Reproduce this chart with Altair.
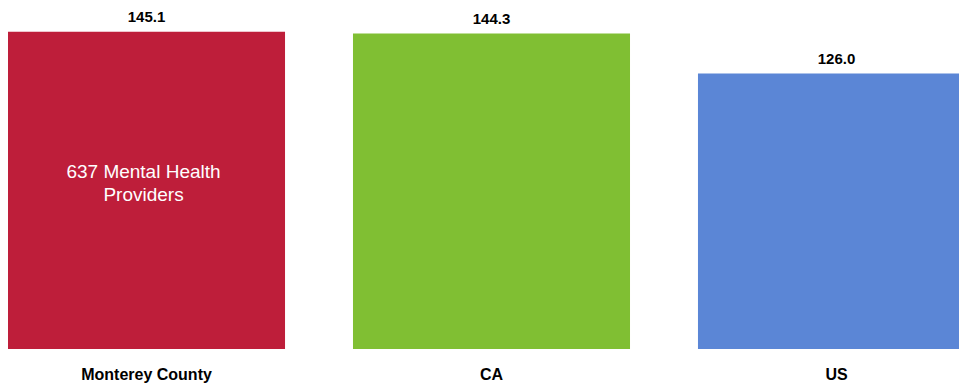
import altair as alt
import pandas as pd

regions = ["Monterey County", "CA", "US"]
rates = [145.1, 144.3, 126.0]
bar_colors = ["#BE1E3A", "#80BF33", "#5B86D6"]
note_lines = ["637 Mental Health", "Providers"]

BOLDFONT = "Liberation Sans, Arial, sans-serif"

df = pd.DataFrame({"region": regions, "rate": rates, "color": bar_colors})

xenc = alt.X(
    "region:N",
    sort=regions,
    scale=alt.Scale(paddingInner=0.197, paddingOuter=0, range=[0, 967]),
    axis=alt.Axis(
        title=None, domain=False, ticks=False, labelAngle=0,
        labelFont=BOLDFONT, labelFontWeight="bold", labelFontSize=16,
        labelColor="#000000", labelPadding=17,
    ),
)
yscale = alt.Scale(domain=[0, 156], nice=False, zero=True)

base = alt.Chart(df).encode(x=xenc)

bars = base.mark_bar().encode(
    y=alt.Y("rate:Q", scale=yscale, axis=None),
    color=alt.Color("color:N", scale=None),
)

values = base.mark_text(
    baseline="alphabetic", dy=-9.5, font=BOLDFONT, fontWeight="bold",
    fontSize=15, color="#000000",
).encode(
    y=alt.Y("rate:Q", scale=yscale, axis=None),
    text=alt.Text("rate:Q", format=".1f"),
)

note = base.transform_filter(
    alt.datum.region == regions[0]
).transform_calculate(
    mid="datum.rate / 2"
).mark_text(
    baseline="alphabetic", dy=-12, dx=-3, font="Liberation Sans",
    fontSize=19, lineHeight=23, color="#FFFFFF", align="center",
).encode(
    y=alt.Y("mid:Q", scale=yscale, axis=None),
    text=alt.value(note_lines),
)

chart = alt.layer(bars, values, note).properties(
    width=951, height=341, background="#FFFFFF",
    padding={"left": 0, "top": 0, "right": 0, "bottom": 36},
    autosize=alt.AutoSizeParams(type="none"),
).configure_view(stroke=None)

chart.save("out.html", embed_options={"renderer": "svg", "actions": False})
